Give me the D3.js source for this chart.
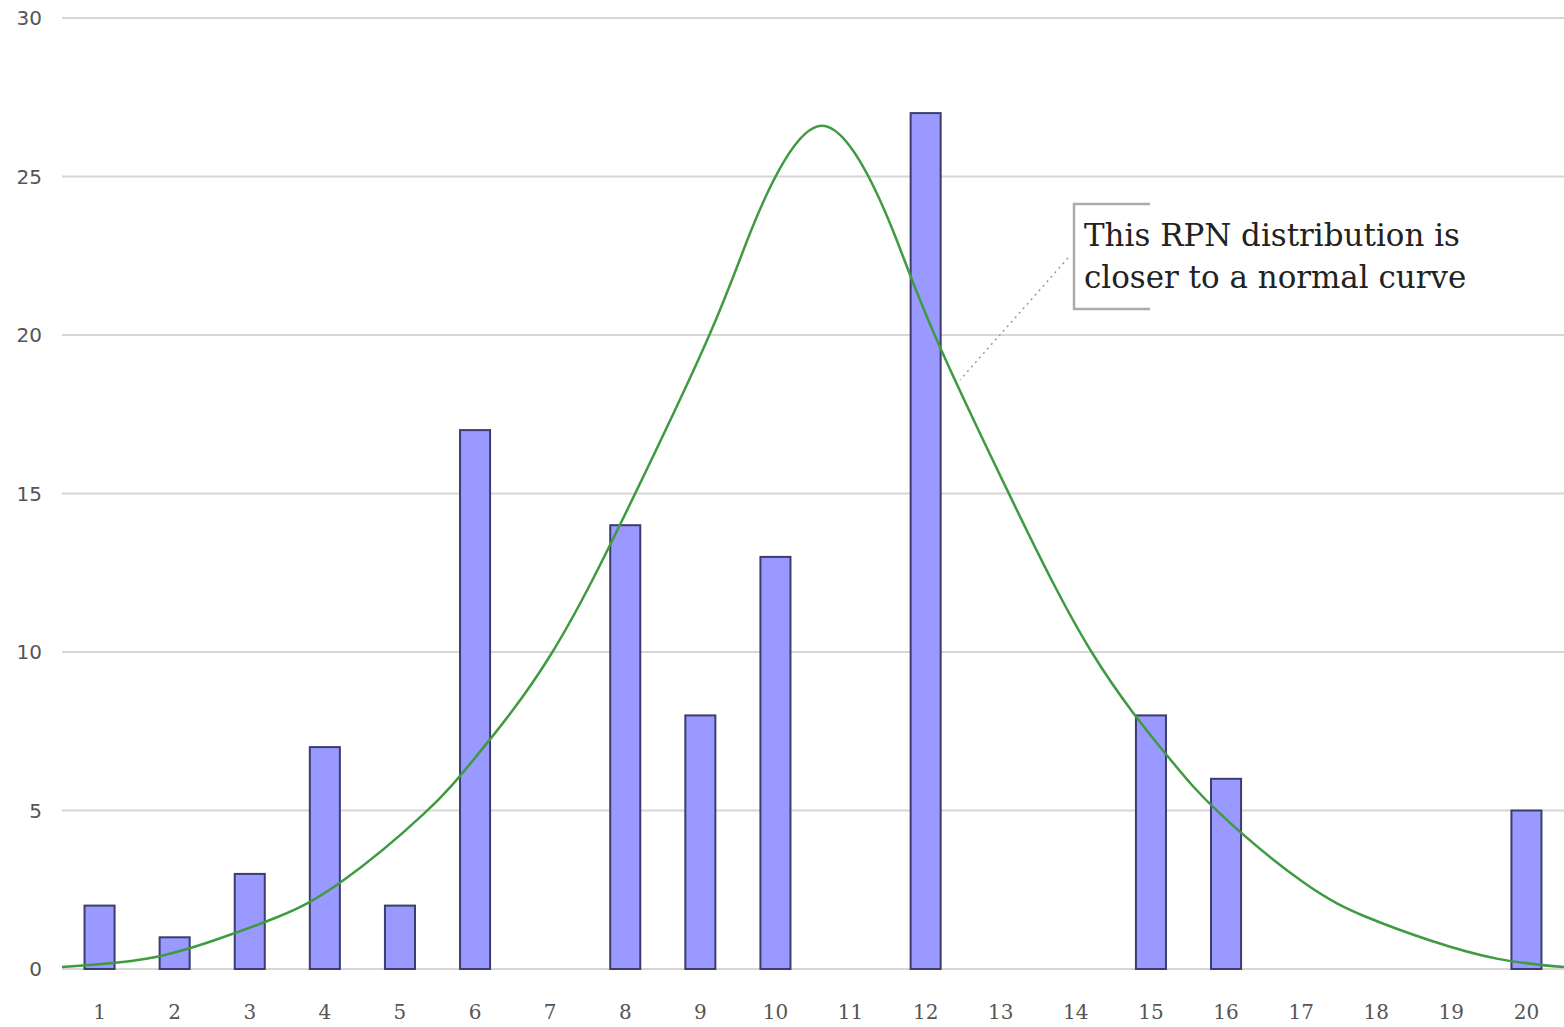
<!DOCTYPE html>
<html>
<head>
<meta charset="utf-8">
<script src="https://cdn.jsdelivr.net/npm/d3@7"></script>
<style>
  body { margin: 0; background: #fff; }
  svg { display: block; }
</style>
</head>
<body>
<div id="chart"></div>
<script>
// bar data: count per RPN class
var categories = [1,2,3,4,5,6,7,8,9,10,11,12,13,14,15,16,17,18,19,20];
var counts = [2,1,3,7,2,17,0,14,8,13,0,27,0,0,8,6,0,0,0,5];
var yTicks = [0,5,10,15,20,25,30];

// fitted curve, points (x in category units)
var curveX = [0.5,1.62,2.52,3.37,4.22,5.32,6.02,7.02,8.12,9.12,9.66,10.12,10.62,
              11.12,11.58,12.12,13.12,14.22,15.22,15.92,17.02,17.87,18.72,19.62,20.5];
var curveY = [0.06,0.32,0.9,1.64,2.75,4.9,6.72,9.96,14.94,20.0,23.2,25.5,26.6,
              25.5,23.2,20.0,14.94,9.96,6.72,4.9,2.75,1.64,0.9,0.32,0.06];

var noteLines = ['This RPN distribution is', 'closer to a normal curve'];

var chartW = 1564, chartH = 1027;
var plotL = 62, plotR = 1564, plotT = 18, plotB = 969;

var svg = d3.select('#chart').append('svg')
    .attr('width', chartW)
    .attr('height', chartH);

var x = d3.scaleLinear().domain([0.5, 20.5]).range([plotL, plotR]);
var y = d3.scaleLinear().domain([0, 30]).range([plotB, plotT]);
var step = x(2) - x(1);
var barW = step * 0.4;

// gridlines
svg.append('g').selectAll('line')
    .data(yTicks)
    .enter().append('line')
    .attr('x1', plotL).attr('x2', plotR)
    .attr('y1', function(d) { return y(d); })
    .attr('y2', function(d) { return y(d); })
    .attr('stroke', '#d6d6d6')
    .attr('stroke-width', 2);

// y labels
svg.append('g').selectAll('text')
    .data(yTicks)
    .enter().append('text')
    .attr('x', 42)
    .attr('y', function(d) { return y(d); })
    .attr('dy', '0.35em')
    .attr('text-anchor', 'end')
    .attr('font-family', 'DejaVu Sans, sans-serif')
    .attr('font-size', 20)
    .attr('fill', '#555')
    .text(function(d) { return d; });

// x labels
svg.append('g').selectAll('text')
    .data(categories)
    .enter().append('text')
    .attr('x', function(d) { return x(d); })
    .attr('y', 1012)
    .attr('dy', '0.35em')
    .attr('text-anchor', 'middle')
    .attr('font-family', 'DejaVu Serif, serif')
    .attr('font-size', 20)
    .attr('fill', '#555')
    .text(function(d) { return d; });

// bars (skip empty classes)
var barIdx = d3.range(counts.length).filter(function(i) { return counts[i] > 0; });
svg.append('g').selectAll('rect')
    .data(barIdx)
    .enter().append('rect')
    .attr('x', function(i) { return x(categories[i]) - barW / 2; })
    .attr('y', function(i) { return y(counts[i]); })
    .attr('width', barW)
    .attr('height', function(i) { return y(0) - y(counts[i]); })
    .attr('fill', '#9999ff')
    .attr('stroke', '#3c3c6e')
    .attr('stroke-width', 2);

// curve
var pts = curveX.map(function(c, i) { return [c, curveY[i]]; });
var line = d3.line()
    .x(function(d) { return x(d[0]); })
    .y(function(d) { return y(d[1]); })
    .curve(d3.curveNatural);
svg.append('path')
    .datum(pts)
    .attr('d', line)
    .attr('fill', 'none')
    .attr('stroke', '#3f9a42')
    .attr('stroke-width', 2.5);

// annotation
var note = svg.append('g');
note.append('line')
    .attr('x1', 1068).attr('y1', 258)
    .attr('x2', 960).attr('y2', 380)
    .attr('stroke', '#999')
    .attr('stroke-width', 1.5)
    .attr('stroke-dasharray', '2,4');
note.append('path')
    .attr('d', 'M1150,204 H1074 V309 H1150')
    .attr('fill', 'none')
    .attr('stroke', '#aaa')
    .attr('stroke-width', 2.5);
var txt = note.selectAll('text')
    .data(noteLines)
    .enter().append('text')
    .attr('x', 1084)
    .attr('y', function(d, i) { return 246 + i * 42; })
    .attr('font-family', 'DejaVu Serif, serif')
    .attr('font-size', 30)
    .attr('fill', '#222')
    .text(function(d) { return d; });
// fit first line to its width in the picture
var w = txt.node().getComputedTextLength();
txt.attr('font-size', 30 * 376 / w);
</script>
</body>
</html>
